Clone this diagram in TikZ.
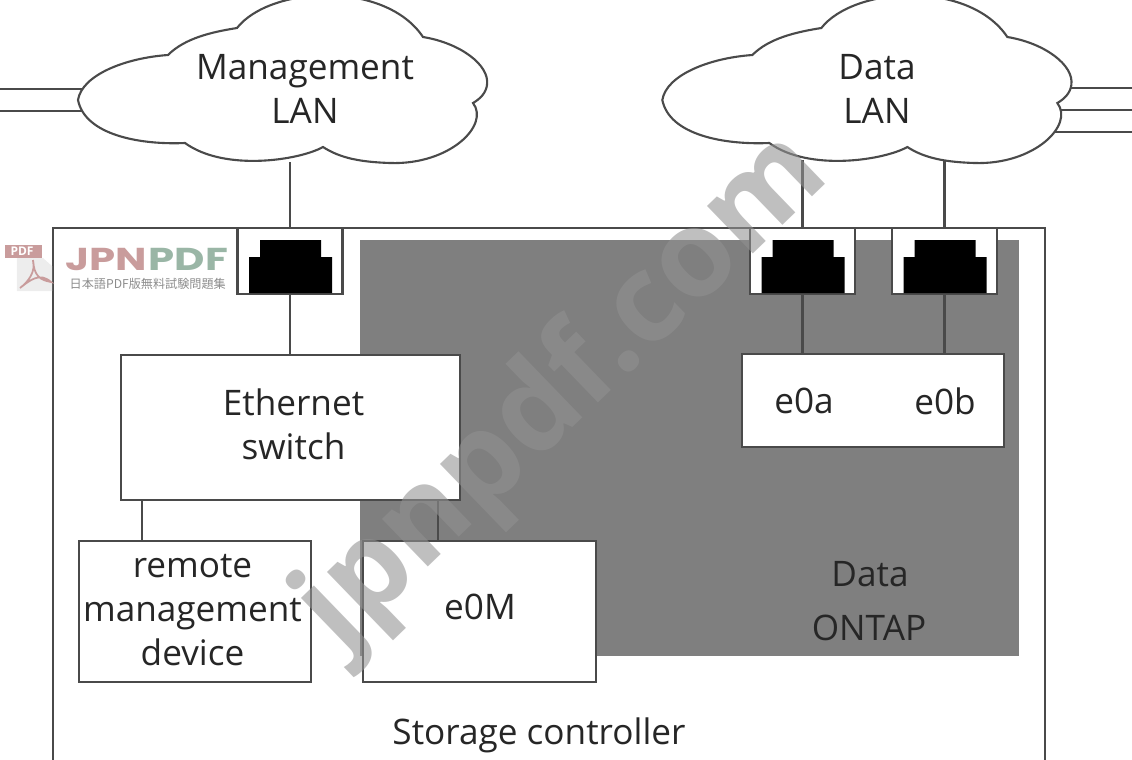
\documentclass[tikz,border=0pt]{standalone}
\usepackage{fontspec}
\setmainfont{Open Sans}
\newfontfamily\cjkfont{Noto Sans CJK JP}
\newfontfamily\logofont[FakeStretch=1.32]{Poppins}
\usetikzlibrary{positioning}
\definecolor{framegray}{HTML}{4A4A4A}
\definecolor{ontapgray}{HTML}{7F7F7F}
\definecolor{textdark}{HTML}{262626}
\definecolor{logopink}{HTML}{C99C9C}
\definecolor{logogreen}{HTML}{9AB6A6}
\tikzset{
	wire/.style={draw=framegray, line width=0.6pt},
	labeltext/.style={text=textdark, font=\fontsize{10}{12.6}\selectfont, align=center, inner sep=0pt},
	unitbox/.style={wire, fill=white, inner sep=0pt, outer sep=0pt},
	portbox/.style={unitbox, minimum width=1.05cm, minimum height=0.66cm},
	cloudline/.style={draw=framegray, line width=0.6pt, fill=white},
	stamp/.style={text=black!43, opacity=0.58, font=\bfseries\fontsize{34.4}{35}\selectfont, inner sep=0pt},
	logotext/.style={font=\logofont\bfseries\fontsize{9}{10}\selectfont, inner sep=0pt},
}
% one LAN cloud, written for the left one
\newcommand{\lanoutline}{(78,100) .. controls (82,75) and (125,58) .. (168,55)
	.. controls (185,38) and (212,32) .. (237,28)
	.. controls (270,-14) and (385,-20) .. (423,37)
	.. controls (460,43) and (490,65) .. (487,85)
	.. controls (486,93) and (480,99) .. (473,103)
	.. controls (490,125) and (450,165) .. (390,163)
	.. controls (360,162) and (340,158) .. (323,147)
	.. controls (300,160) and (225,172) .. (185,143)
	.. controls (140,145) and (85,135) .. (78,100) -- cycle}
\begin{document}
\begin{tikzpicture}[x=0.01cm, y=-0.01cm]
	\useasboundingbox (0,0) rectangle (1132,760);
	% wires going off the page
	\coordinate (leftA) at (0,89);
	\coordinate (leftB) at (0,111);
	\coordinate (rightA) at (1132,88);
	\coordinate (rightB) at (1132,110);
	\coordinate (rightC) at (1132,132);
	\draw [wire] (leftA) -- (90,89);
	\draw [wire] (leftB) -- (90,111);
	\draw [wire] (rightA) -- (1050,88);
	\draw [wire] (rightB) -- (1050,110);
	\draw [wire] (rightC) -- (1050,132);
	\draw [cloudline] \lanoutline;
	\begin{scope}[xshift=5.84cm]
		\draw [cloudline] \lanoutline;
	\end{scope}
	\node [labeltext] (mgmtlan) at (305,89) {Management\\LAN};
	\node [labeltext] (datalan) at (877,89) {Data\\LAN};
	\coordinate (mgmtdrop) at (290,162);
	\coordinate (adrop) at (802.5,160);
	\coordinate (bdrop) at (944.5,160);
	% controller frame, runs off the bottom
	\draw [wire] (53,775) -- (53,228) -- (1045,228) -- (1045,775);
	\fill [ontapgray] (360,240) rectangle (1019,656);
	\node [labeltext] (datatext) at (870,574) {Data};
	\node [labeltext] (ontaptext) at (869,628) {ONTAP};
	\node [labeltext] (storage) at (539,735) {Storage controller};
	% ports
	\foreach \px/\pname in {290/mgmtport, 802.5/aport, 944.5/bport} {
		\node [portbox] (\pname) at (\px,261) {};
		\fill [black] (\px-41,293) -- (\px-41,257) -- (\px-30,257) -- (\px-30,240) -- (\px+31,240)
			-- (\px+31,257) -- (\px+42,257) -- (\px+42,293) -- cycle;
	}
	% boxes
	\node [unitbox, minimum width=3.39cm, minimum height=1.45cm] (switch) at (290.5,427.5) {};
	\node [labeltext] (switchtext) at (293.5,424) {Ethernet\\switch};
	\node [unitbox, minimum width=2.62cm, minimum height=0.93cm] (portsbox) at (873,400.5) {};
	\node [labeltext] (e0a) at (804,401) {e0a};
	\node [labeltext] (e0b) at (945,401) {e0b};
	\node [unitbox, minimum width=2.32cm, minimum height=1.41cm] (remote) at (195,611.5) {};
	\node [labeltext] (remotetext) at (192.5,610) {remote\\management\\device};
	\node [unitbox, minimum width=2.33cm, minimum height=1.41cm] (e0M) at (479.5,611.5) {};
	\node [labeltext] (e0Mtext) at (480,607) {e0M};
	% connectors
	\draw [wire] (mgmtdrop) -- (mgmtport.north);
	\draw [wire] (adrop) -- (aport.north);
	\draw [wire] (bdrop) -- (bport.north);
	\draw [wire] (mgmtport.south) -- (mgmtport.south |- switch.north);
	\draw [wire] (aport.south) -- (aport.south |- portsbox.north);
	\draw [wire] (bport.south) -- (bport.south |- portsbox.north);
	\draw [wire] (142,500) -- (142,541);
	\draw [wire] (438,500) -- (438,541);
	% logo
	\fill [black!7] (17,258) -- (43,258) -- (52,266) -- (52,291) -- (17,291) -- cycle;
	\fill [logopink] (5,245) rectangle (42,258);
	\node [text=white, font=\bfseries\fontsize{3.4}{4}\selectfont, inner sep=0pt] (pdftab) at (22,251.5) {PDF};
	\draw [logopink, line width=0.5pt] (33,260) .. controls (36,272) and (28,282) .. (20,288)
		.. controls (30,280) and (40,272) .. (51,282) .. controls (40,280) and (34,276) .. (33,260);
	\node [logotext, text=logopink, anchor=west] (logoa) at (65,259) {JPN};
	\node [logotext, text=logogreen, right=0pt of logoa] (logob) {PDF};
	\node [text=black!45, font=\cjkfont\fontsize{3.45}{4}\selectfont, inner sep=0pt, anchor=west] (logoc) at (69,283.5) {日本語PDF版無料試験問題集};
	% stamp across the page
	\node [stamp, rotate=44] (stamptext) at (564,392) {jpnpdf.com};
\end{tikzpicture}
\end{document}
